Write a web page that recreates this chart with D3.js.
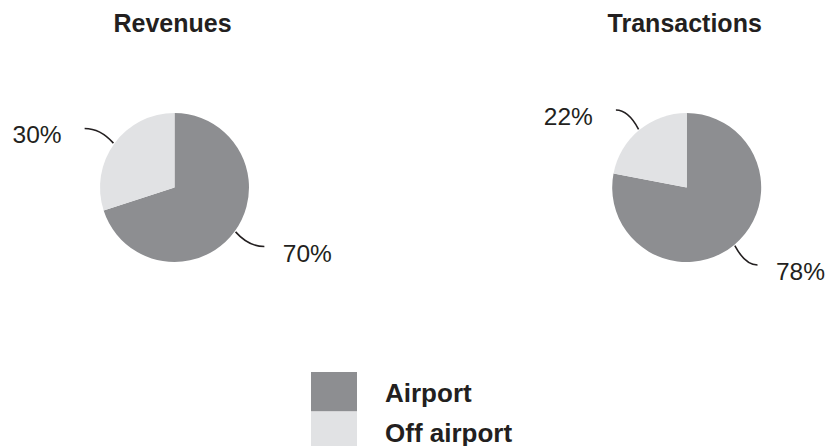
<!DOCTYPE html>
<html>
<head>
<meta charset="utf-8">
<script src="https://cdn.jsdelivr.net/npm/d3@7"></script>
<style>
  body { margin: 0; background: #fff; }
  svg { display: block; font-family: 'Liberation Sans', Arial, sans-serif; }
</style>
</head>
<body>
<svg></svg>
<script>
let categories = ['Airport', 'Off airport']
let charts = ['Revenues', 'Transactions']
let revenues = [70, 30]
let transactions = [78, 22]
let series = [revenues, transactions]

let colors = ['#8d8e91', '#e1e2e4']
let textColor = '#231f20'

let width = 827
let height = 446
let radius = 74.5
let centers = [174.5, 686.7]
let centerY = 187.5

let svg = d3.select('svg')
  .attr('width', width)
  .attr('height', height)

let color = d3.scaleOrdinal().domain(categories).range(colors)

let pie = d3.pie().sort(null).value(d => d.value)
let arc = d3.arc().innerRadius(0).outerRadius(radius)

let polar = (r, a) => [Math.sin(a) * r, -Math.cos(a) * r]

let drawPie = (i) => {
  let data = categories.map((c, j) => ({ name: c, value: series[i][j] }))
  let g = svg.append('g')
    .attr('transform', 'translate(' + centers[i] + ',' + centerY + ')')

  g.append('text')
    .attr('x', -2)
    .attr('y', 32 - centerY)
    .attr('text-anchor', 'middle')
    .attr('font-size', 25)
    .attr('font-weight', 'bold')
    .attr('fill', textColor)
    .text(charts[i])

  let arcs = pie(data)

  g.selectAll('path.slice')
    .data(arcs)
    .enter()
    .append('path')
    .attr('class', 'slice')
    .attr('d', arc)
    .attr('fill', d => color(d.data.name))

  // leader lines, curved so they end flat
  arcs.forEach(d => {
    let mid = (d.startAngle + d.endAngle) / 2
    let p0 = polar(radius + 1, mid)
    let p2 = polar(radius * 1.42, mid)
    p2 = [p2[0] * 1.05, p2[1] * 0.95]
    let side = p2[0] < 0 ? -1 : 1
    let c = [p0[0] + (p2[0] - p0[0]) * 0.45, p2[1]]
    let path = d3.path()
    path.moveTo(p0[0], p0[1])
    path.quadraticCurveTo(c[0], c[1], p2[0], p2[1])
    g.append('path')
      .attr('d', path.toString())
      .attr('fill', 'none')
      .attr('stroke', textColor)
      .attr('stroke-width', 1.6)

    g.append('text')
      .attr('x', p2[0] + (side < 0 ? -23 : 18.5))
      .attr('y', p2[1] + 15)
      .attr('text-anchor', side < 0 ? 'end' : 'start')
      .attr('font-size', 24.5)
      .attr('fill', textColor)
      .text(d.data.value + '%')
  })
}

charts.forEach((c, i) => drawPie(i))

// legend
let legendY = d3.scaleBand().domain(categories).range([372, 451])

let legend = svg.append('g')

legend.selectAll('rect')
  .data(categories)
  .enter()
  .append('rect')
  .attr('x', 311)
  .attr('y', d => legendY(d))
  .attr('width', 46)
  .attr('height', legendY.bandwidth())
  .attr('fill', d => color(d))

legend.selectAll('text')
  .data(categories)
  .enter()
  .append('text')
  .attr('x', 385)
  .attr('y', d => legendY(d) + 30)
  .attr('font-size', 26)
  .attr('font-weight', 'bold')
  .attr('fill', textColor)
  .text(d => d)
</script>
</body>
</html>
